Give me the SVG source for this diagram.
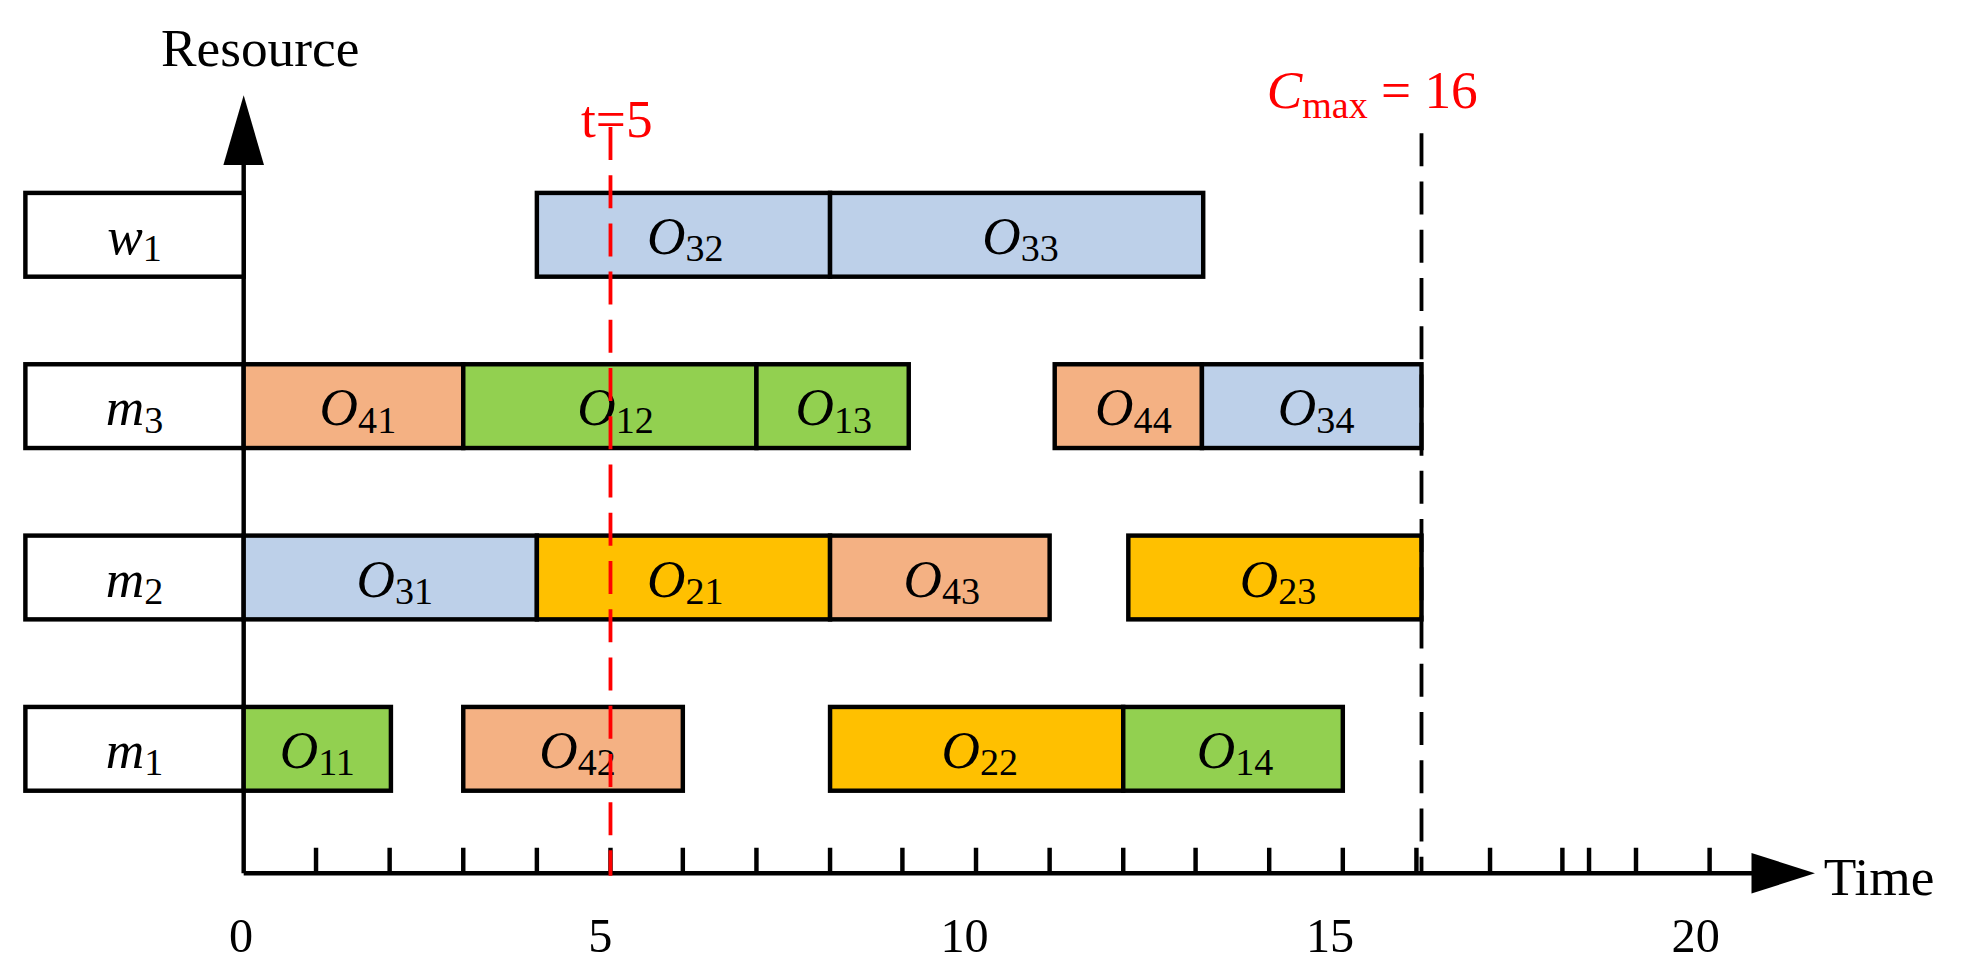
<svg xmlns="http://www.w3.org/2000/svg" width="1980" height="970" viewBox="0 0 1980 970">
<style>
.b{stroke:#000;stroke-width:3.5}
.bl{fill:#bdd0e9}.or{fill:#f4b183}.gr{fill:#92d050}.ye{fill:#ffc000}.wh{fill:#fff}
text{font-family:"Liberation Serif","Times New Roman",serif}
.op{font-size:42px;font-style:italic;text-anchor:middle}
.sub{font-size:30px;font-style:normal}
.n{font-size:38px;text-anchor:middle}
</style>
<rect width="1980" height="970" fill="#fff"/>
<g transform="scale(1.2692)">
<g id="axes" stroke="#000" stroke-width="3.5" fill="none">
<line x1="192" y1="688" x2="1385" y2="688"/>
<line x1="192" y1="688" x2="192" y2="128"/>
<path d="M1252 668V688M307 668V688M249 668V688M365 668V688M423 668V688M538 668V688M596 668V688M654 668V688M711 668V688M769 668V688M827 668V688M885 668V688M942 668V688M1000 668V688M1058 668V688M1116 668V688M1174 668V688M1231 668V688M1289 668V688M1347 668V688M481 668V688"/>
</g>
<polygon points="1380,672 1430,688 1380,704" fill="#000"/>
<polygon points="176,130 192,75 208,130" fill="#000"/>
<g id="rows">
<rect class="b wh" x="20" y="152" width="172" height="66"/>
<rect class="b wh" x="20" y="287" width="172" height="66"/>
<rect class="b wh" x="20" y="422" width="172" height="66"/>
<rect class="b wh" x="20" y="557" width="172" height="66"/>
<text class="op" x="106" y="200">w<tspan class="sub" dy="6">1</tspan></text>
<text class="op" x="106" y="335">m<tspan class="sub" dy="6">3</tspan></text>
<text class="op" x="106" y="470">m<tspan class="sub" dy="6">2</tspan></text>
<text class="op" x="106" y="605">m<tspan class="sub" dy="6">1</tspan></text>
</g>
<g id="bars">
<rect class="b bl" x="423" y="152" width="231" height="66"/>
<rect class="b bl" x="654" y="152" width="294" height="66"/>
<rect class="b or" x="192" y="287" width="173" height="66"/>
<rect class="b gr" x="365" y="287" width="231" height="66"/>
<rect class="b gr" x="596" y="287" width="120" height="66"/>
<rect class="b or" x="831" y="287" width="116" height="66"/>
<rect class="b bl" x="947" y="287" width="173" height="66"/>
<rect class="b bl" x="192" y="422" width="231" height="66"/>
<rect class="b ye" x="423" y="422" width="231" height="66"/>
<rect class="b or" x="654" y="422" width="173" height="66"/>
<rect class="b ye" x="889" y="422" width="231" height="66"/>
<rect class="b gr" x="192" y="557" width="116" height="66"/>
<rect class="b or" x="365" y="557" width="173" height="66"/>
<rect class="b ye" x="654" y="557" width="231" height="66"/>
<rect class="b gr" x="885" y="557" width="173" height="66"/>
</g>
<g id="labels">
<text class="op" x="540" y="200">O<tspan class="sub" dy="6">32</tspan></text>
<text class="op" x="804" y="200">O<tspan class="sub" dy="6">33</tspan></text>
<text class="op" x="282" y="335">O<tspan class="sub" dy="6">41</tspan></text>
<text class="op" x="485" y="335">O<tspan class="sub" dy="6">12</tspan></text>
<text class="op" x="657" y="335">O<tspan class="sub" dy="6">13</tspan></text>
<text class="op" x="893" y="335">O<tspan class="sub" dy="6">44</tspan></text>
<text class="op" x="1037" y="335">O<tspan class="sub" dy="6">34</tspan></text>
<text class="op" x="311" y="470">O<tspan class="sub" dy="6">31</tspan></text>
<text class="op" x="540" y="470">O<tspan class="sub" dy="6">21</tspan></text>
<text class="op" x="742" y="470">O<tspan class="sub" dy="6">43</tspan></text>
<text class="op" x="1007" y="470">O<tspan class="sub" dy="6">23</tspan></text>
<text class="op" x="250" y="605">O<tspan class="sub" dy="6">11</tspan></text>
<text class="op" x="455" y="605">O<tspan class="sub" dy="6">42</tspan></text>
<text class="op" x="772" y="605">O<tspan class="sub" dy="6">22</tspan></text>
<text class="op" x="973" y="605">O<tspan class="sub" dy="6">14</tspan></text>
</g>
<g id="connectors" fill="none">
<line x1="481" y1="100" x2="481" y2="690" stroke="#f00" stroke-width="3" stroke-dasharray="26,12"/>
<line x1="1120" y1="105" x2="1120" y2="688" stroke="#000" stroke-width="3" stroke-dasharray="26,12"/>
</g>
<g id="text">
<text x="205" y="52" font-size="42" text-anchor="middle">Resource</text>
<text x="1437" y="705" font-size="42">Time</text>
<text class="n" x="190" y="750">0</text>
<text class="n" x="473" y="750">5</text>
<text class="n" x="760" y="750">10</text>
<text class="n" x="1048" y="750">15</text>
<text class="n" x="1336" y="750">20</text>
<text x="486" y="108" font-size="42" fill="#f00" text-anchor="middle">t=5</text>
<text x="998" y="85" font-size="42" fill="#f00"><tspan font-style="italic">C</tspan><tspan font-size="30" dy="8">max</tspan><tspan dy="-8"> = 16</tspan></text>
</g>
</g>
</svg>
